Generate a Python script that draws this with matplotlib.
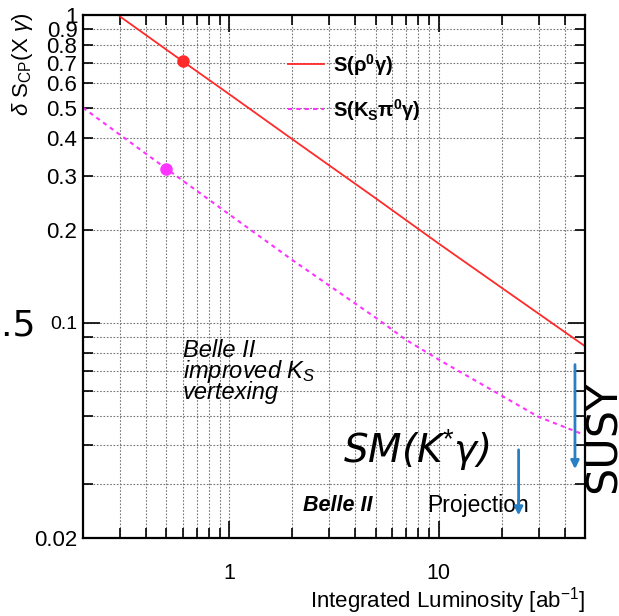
import matplotlib.pyplot as plt
import matplotlib.ticker as mticker
import numpy as np

plt.rcParams['font.family'] = ['Liberation Sans', 'DejaVu Sans']
plt.rcParams['mathtext.fontset'] = 'custom'
plt.rcParams['mathtext.rm'] = 'Liberation Sans'
plt.rcParams['mathtext.it'] = 'Liberation Sans:italic'
plt.rcParams['mathtext.bf'] = 'Liberation Sans:bold'

# projected precision curves
lumi_rho = [0.3, 0.6, 1, 2, 5, 10, 20, 50]
s_rho = [0.99, 0.707, 0.553, 0.395, 0.254, 0.181, 0.130, 0.084]
lumi_ks = [0.2, 0.5, 1, 2, 5, 7, 10, 20, 30, 50]
s_ks = [0.50, 0.317, 0.225, 0.160, 0.104, 0.088, 0.076, 0.058, 0.0495, 0.0432]

# current measurements (dots)
now_rho = ([0.6], [0.707])
now_ks = ([0.5], [0.317])

# blue arrows (x, y_start, y_end)
arrow_susy = (44.8, 0.0747, 0.0328)
arrow_sm = (24.1, 0.0395, 0.0232)

y_major = [0.1, 1]
y_minor = [0.02, 0.03, 0.04, 0.05, 0.06, 0.07, 0.08, 0.09,
           0.2, 0.3, 0.4, 0.5, 0.6, 0.7, 0.8, 0.9]
y_minor_labels = ['0.02', '', '', '', '', '', '', '',
                  '0.2', '0.3', '0.4', '0.5', '0.6', '0.7', '0.8', '0.9']

red = '#ff2a2a'
magenta = '#ff33ff'
blue = '#2a7fc4'

fig = plt.figure(figsize=(6.19, 6.16), dpi=100)
ax = fig.add_axes([0.134, 0.1266, 0.811, 0.849])

ax.plot(lumi_rho, s_rho, color=red, lw=1.3, label=r'$\mathbf{S(ρ^{0}γ)}$')
ax.plot(lumi_ks, s_ks, color=magenta, lw=1.5, ls=(0, (2, 2)),
        label=r'$\mathbf{S(K_{S}π^{0}γ)}$')
ax.plot(*now_rho, 'o', color=red, ms=8)
ax.plot(*now_ks, 'o', color=magenta, ms=8)

ax.set_xscale('log')
ax.set_yscale('log')
ax.set_xlim(0.2, 50)
ax.set_ylim(0.02, 1)

# ticks
ax.xaxis.set_major_locator(mticker.FixedLocator([1, 10]))
ax.xaxis.set_major_formatter(mticker.FixedFormatter(['1', '10']))
ax.xaxis.set_minor_locator(mticker.LogLocator(subs=np.arange(2, 10)))
ax.xaxis.set_minor_formatter(mticker.NullFormatter())
ax.yaxis.set_major_locator(mticker.FixedLocator(y_major))
ax.yaxis.set_major_formatter(mticker.FixedFormatter(['0.1', '1']))
ax.yaxis.set_minor_locator(mticker.FixedLocator(y_minor))
ax.yaxis.set_minor_formatter(mticker.FixedFormatter(y_minor_labels))

ax.tick_params(which='both', direction='in', top=True, right=True, width=1.2)
ax.tick_params(which='major', length=12)
ax.tick_params(which='minor', length=7)
ax.tick_params(axis='x', which='both', labelsize=15.5, pad=18)
ax.tick_params(axis='y', which='minor', labelsize=16, pad=4)
ax.tick_params(axis='y', which='major', labelsize=14, pad=4)
for lab in ax.yaxis.get_majorticklabels():
    if lab.get_text() == '1':
        lab.set_fontsize(16)

for s in ax.spines.values():
    s.set_linewidth(1.6)

ax.grid(which='both', color='#777777', ls=(0, (1.5, 1.5)), lw=0.8)
ax.set_axisbelow(True)

ax.set_xlabel(r'Integrated Luminosity [ab$^{-1}$]', fontsize=16, loc='right')
ax.xaxis.set_label_coords(1.0, -0.09)
ax.set_ylabel(r'$\delta$ S$_{\rm CP}$(X $\gamma$)', fontsize=16, loc='top')
ax.yaxis.set_label_coords(-0.096, 1.005)

ax.legend(loc='upper left', bbox_to_anchor=(0.408, 0.93), frameon=False,
          fontsize=14.5, handlelength=1.8, handletextpad=0.45, labelspacing=0.95,
          borderpad=0, borderaxespad=0)

# annotations
ax.text(0.199, 0.381, 'Belle II\nimproved K$_{S}$\nvertexing', transform=ax.transAxes,
        fontsize=17, style='italic', va='top', ha='left', linespacing=0.8)
ax.text(0.518, 0.168, 'SM(K$^{*}$γ)', transform=ax.transAxes,
        fontsize=28, style='italic', va='center', ha='left',
        family=['DejaVu Sans'])
ax.text(0.438, 0.063, 'Belle II', transform=ax.transAxes, fontsize=15.5,
        style='italic', weight='bold', va='center', ha='left')
ax.text(0.685, 0.063, 'Projection', transform=ax.transAxes, fontsize=16.5,
        va='center', ha='left')

for xa, y0, y1 in (arrow_susy, arrow_sm):
    ax.annotate('', xy=(xa, y1), xytext=(xa, y0),
                arrowprops=dict(arrowstyle='-|>', color=blue, lw=2,
                                mutation_scale=12))

fig.text(0.975, 0.291, 'SUSY', rotation=90, fontsize=31, ha='center',
         va='center', family=['DejaVu Sans'])
fig.text(35 / 619, 1 - 325 / 616, '1.5', fontsize=26, ha='right',
         va='center', family=['DejaVu Sans'])

fig.savefig('out.png', dpi=100)
